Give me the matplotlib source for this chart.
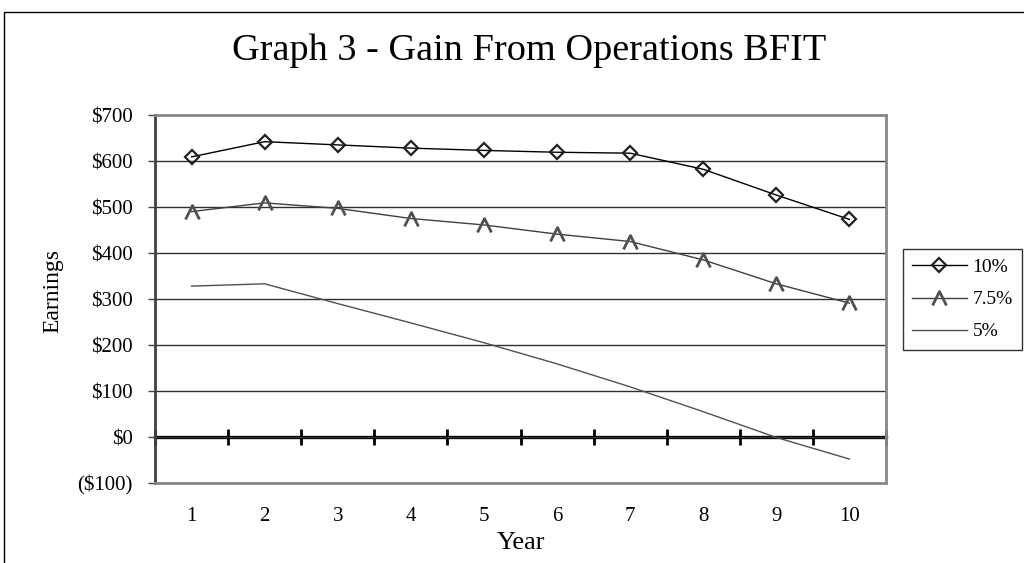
import matplotlib
matplotlib.use("Agg")
import matplotlib.pyplot as plt
from matplotlib.path import Path
from matplotlib.patches import Rectangle
from matplotlib.ticker import FuncFormatter, FixedLocator

plt.rcParams["font.family"] = ["Liberation Serif", "DejaVu Serif"]

years = [1, 2, 3, 4, 5, 6, 7, 8, 9, 10]
rate_10 = [609, 642, 635, 628, 623, 619, 617, 582, 526, 473]
rate_75 = [490, 509, 497, 475, 461, 441, 425, 385, 333, 291]
rate_5 = [328, 333, 290, 248, 205, 159, 109, 55, -1, -48]
labels = ["10%", "7.5%", "5%"]

# open "A"-shaped marker like the Excel chart
caret = Path([(-1.0, -1.0), (0.0, 1.0), (1.0, -1.0)],
             [Path.MOVETO, Path.LINETO, Path.LINETO])


def money(v, _pos):
    v = int(round(v))
    return f"(${-v})" if v < 0 else f"${v}"


fig = plt.figure(figsize=(10.24, 5.63), dpi=100)
fig.patches.append(Rectangle((0.004, -0.2), 1.2, 1.2 - 12 / 563,
                             transform=fig.transFigure, fill=False,
                             edgecolor="black", lw=1.0, zorder=0))

ax = fig.add_axes([155 / 1024, 1 - 483 / 563, 731 / 1024, 368 / 563])
ax.plot(years, rate_10, color="black", lw=1.0, marker="D", ms=7.5,
        mfc="none", mec="#202020", mew=1.6, label=labels[0], zorder=4)
ax.plot(years, rate_75, color="#404040", lw=1.0, marker=caret, ms=10,
        mfc="none", mec="#505050", mew=2.0, label=labels[1], zorder=4)
ax.plot(years, rate_5, color="#505050", lw=1.0, label=labels[2], zorder=4)

ax.set_xlim(0.5, 10.5)
ax.set_ylim(-100, 700)
ax.yaxis.set_major_locator(FixedLocator(range(-100, 701, 100)))
ax.yaxis.set_major_formatter(FuncFormatter(money))
ax.grid(axis="y", color="#303030", lw=1.0)
ax.set_axisbelow(True)

for side in ("top", "right", "bottom"):
    ax.spines[side].set_color("#888888")
    ax.spines[side].set_linewidth(2.0)
ax.spines["left"].set_color("#404040")
ax.spines["left"].set_linewidth(2.0)

ax.set_xticks(years)
ax.tick_params(axis="x", length=0, pad=17, labelsize=15)
ax.tick_params(axis="y", direction="out", length=5, width=1.0,
               color="#404040", labelsize=15, pad=11)

# category axis crossing at zero, with ticks between categories
zero_axis = ax.secondary_xaxis(100 / 800)
zero_axis.spines["bottom"].set_linewidth(2.4)
zero_axis.spines["bottom"].set_color("black")
zero_axis.set_xticks([y + 0.5 for y in [0] + years])
zero_axis.tick_params(direction="inout", length=12, width=2.0,
                      color="black", labelbottom=False)

ax.set_xlabel("Year", fontsize=19)
ax.xaxis.set_label_coords((521 - 155) / 731, (483 - 543) / 368)
ax.xaxis.label.set_va("center")
ax.set_ylabel("Earnings", fontsize=17)
ax.yaxis.set_label_coords((53 - 155) / 731, (483 - 291) / 368)
ax.yaxis.label.set_va("center")
ax.yaxis.label.set_ha("center")

fig.text(529 / 1024, 1 - 51 / 563, "Graph 3 - Gain From Operations BFIT",
         ha="center", va="center", fontsize=27.5)

leg = ax.legend(loc="center",
                bbox_to_anchor=(962.5 / 1024, 1 - 299.5 / 563),
                bbox_transform=fig.transFigure, fontsize=14, frameon=True,
                fancybox=False, edgecolor="black", handlelength=2.8,
                borderpad=0.5, labelspacing=0.75, handletextpad=0.3,
                borderaxespad=0)
leg.get_frame().set_linewidth(1.0)

fig.savefig("out.png", dpi=100)
